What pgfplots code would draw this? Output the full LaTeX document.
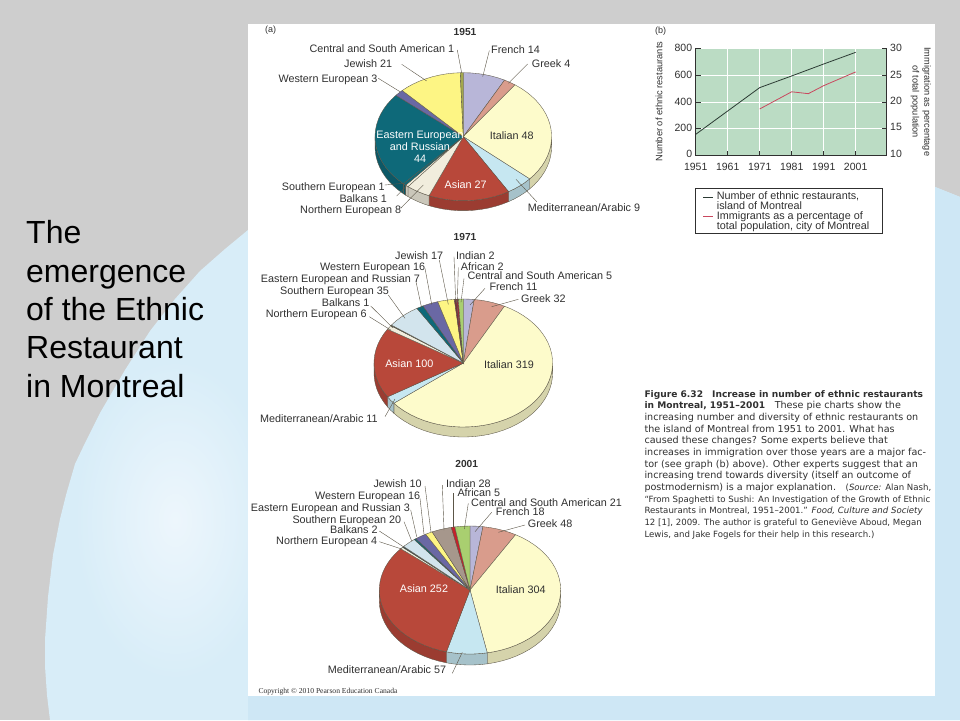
\documentclass[border=0pt]{standalone}
\usepackage{fontspec}
\setmainfont{Liberation Sans}
\newfontfamily\serifcopy{Liberation Serif}
\newfontfamily\capfont{DejaVu Sans}
\usepackage{pgfplots}
\usepackage{pgfplotstable}
\pgfplotsset{compat=1.18}

\definecolor{bgGray}{HTML}{CECECE}
\definecolor{bgBlue}{HTML}{CEE7F5}
\definecolor{bgMid}{HTML}{D8EDF8}
\definecolor{bgLight}{HTML}{EDF6FC}
\definecolor{panelGreen}{HTML}{BBDCC4}
\definecolor{edgeCol}{HTML}{5C5648}
\definecolor{txt}{HTML}{303030}
\definecolor{lineBlack}{HTML}{2B3A33}
\definecolor{lineRed}{HTML}{C9485E}
\definecolor{cFrench}{HTML}{B8B6D8}
\definecolor{cGreek}{HTML}{D99C8C}
\definecolor{cItalian}{HTML}{FDFBCB}
\definecolor{cMed}{HTML}{C6E7F1}
\definecolor{cAsian}{HTML}{B8483A}
\definecolor{cNorth}{HTML}{F1EDDD}
\definecolor{cBalk}{HTML}{1D4A5C}
\definecolor{cSouth}{HTML}{D2E4ED}
\definecolor{cEast}{HTML}{0E6979}
\definecolor{cWest}{HTML}{6A68A4}
\definecolor{cJew}{HTML}{FDF584}
\definecolor{cIndian}{HTML}{A6978C}
\definecolor{cIndianB}{HTML}{7A2E3A}
\definecolor{cAfrican}{HTML}{C4222C}
\definecolor{cAfricanB}{HTML}{9C2C3A}
\definecolor{cCentral}{HTML}{A9CF70}
\definecolor{cCentralA}{HTML}{A3A84C}

\pgfplotstableread{
value colour
14 cFrench
4 cGreek
48 cItalian
9 cMed
27 cAsian
8 cNorth
1 cNorth
1 cEast
44 cEast
3 cWest
21 cJew
1 cCentralA
}\pieA
\pgfplotstableread{
value colour
11 cFrench
32 cGreek
319 cItalian
11 cMed
100 cAsian
6 cNorth
1 cBalk
35 cSouth
7 cEast
16 cWest
17 cJew
2 cIndianB
2 cAfricanB
5 cCentral
}\pieB
\pgfplotstableread{
value colour
18 cFrench
48 cGreek
304 cItalian
57 cMed
252 cAsian
4 cNorth
2 cBalk
20 cSouth
3 cEast
16 cWest
10 cJew
28 cIndian
5 cAfrican
21 cCentral
}\pieC

% append elliptical arc points, angles clockwise from the top
\newcommand{\addarc}[3]{%
  \pgfmathtruncatemacro\nn{max(1,ceil(abs(#2-#1)/5))}%
  \foreach \kk in {0,...,\nn}{%
    \pgfmathsetmacro\ang{#1+(#2-#1)*\kk/\nn}%
    \pgfmathsetmacro\ptx{\cx+\rx*sin(\ang)}%
    \pgfmathsetmacro\pty{\cy-\ry*cos(\ang)+#3}%
    \xdef\pts{\pts (\ptx,\pty)}%
  }}
% table, cx, cy, rx, ry, depth
\newcommand{\drawpie}[6]{%
  \def\cx{#2}\def\cy{#3}\def\rx{#4}\def\ry{#5}%
  \pgfplotstablegetrowsof{#1}\pgfmathtruncatemacro\last{\pgfplotsretval-1}%
  \xdef\tot{0}%
  \foreach \rr in {0,...,\last}{%
    \pgfplotstablegetelem{\rr}{value}\of{#1}%
    \pgfmathsetmacro\tmpv{\tot+\pgfplotsretval}\xdef\tot{\tmpv}}%
  % side walls first
  \xdef\cum{0}%
  \foreach \rr in {0,...,\last}{%
    \pgfplotstablegetelem{\rr}{value}\of{#1}\edef\val{\pgfplotsretval}%
    \pgfplotstablegetelem{\rr}{colour}\of{#1}\edef\col{\pgfplotsretval}%
    \pgfmathsetmacro\nxt{\cum+\val/\tot*360}%
    \pgfmathsetmacro\wa{max(\cum,90)}\pgfmathsetmacro\wb{min(\nxt,270)}%
    \pgfmathtruncatemacro\vis{\wb>\wa?1:0}%
    \ifnum\vis=1
      \xdef\pts{}\addarc{\wa}{\wb}{0}\addarc{\wb}{\wa}{#6}%
      \edef\cmd{\noexpand\addplot[fill=\col!84!black,draw=edgeCol,line width=0.35pt] coordinates {\pts} --cycle;}\cmd
    \fi
    \xdef\cum{\nxt}}%
  % top faces
  \xdef\cum{0}%
  \foreach \rr in {0,...,\last}{%
    \pgfplotstablegetelem{\rr}{value}\of{#1}\edef\val{\pgfplotsretval}%
    \pgfplotstablegetelem{\rr}{colour}\of{#1}\edef\col{\pgfplotsretval}%
    \pgfmathsetmacro\nxt{\cum+\val/\tot*360}%
    \xdef\pts{(\cx,\cy)}\addarc{\cum}{\nxt}{0}%
    \edef\cmd{\noexpand\addplot[fill=\col,draw=edgeCol,line width=0.35pt] coordinates {\pts} --cycle;}\cmd
    \xdef\cum{\nxt}}%
}
\newcommand{\fs}[1]{\fontsize{#1}{#1}\selectfont}
\tikzset{tx/.style={inner sep=0pt,text height=10.2pt,text depth=2.3pt}}
\newcommand{\lbl}[3]{\node[tx,anchor=west,text=txt,font=\fs{10.8}] at (axis cs:#1,#2) {#3};}
\newcommand{\clbl}[3]{\node[tx,text=txt,font=\fs{10.8}] at (axis cs:#1,#2) {#3};}
\newcommand{\wlbl}[3]{\node[tx,text=white,font=\fs{10.8}] at (axis cs:#1,#2) {#3};}
\newcommand{\ld}[4]{\draw[edgeCol,line width=0.4pt] (axis cs:#1,#2) -- (axis cs:#3,#4);}
\newcommand{\capL}[2]{\node[tx,anchor=west,text=txt,font=\capfont\fs{9.6}] at (axis cs:644.3,#1) {#2};}
\newcommand{\capB}[2]{\node[tx,anchor=west,text=txt,font=\capfont\fs{9.1}] at (axis cs:644.3,#1) {#2};}
\newcommand{\capS}[2]{\node[tx,anchor=west,text=txt,font=\capfont\fs{8.6}] at (axis cs:644.3,#1) {#2};}
\newcommand{\ttl}[2]{\node[anchor=base west,inner sep=0pt,text=black,font=\fs{32}] at (axis cs:26,#1) {#2};}

\begin{document}
\begin{tikzpicture}
\begin{axis}[
    name=page, at={(0pt,0pt)}, anchor=south west,
    width=960pt, height=720pt, scale only axis,
    xmin=0, xmax=960, ymin=0, ymax=720, y dir=reverse,
    hide axis, clip=false,
]
% slide background
\addplot[fill=bgGray,draw=none] coordinates {(0,0)(960,0)(960,720)(0,720)} --cycle;
\addplot[fill=bgMid,draw=none] coordinates {
  (248,230)(225,249)(200,271)(175,299)(150,331)(125,370)(100,413)(85,443)(75,464)
  (66,495)(60,519)(53,555)(48,597)(45,640)(45,666)(47,695)(50,720)
  (960,720)(960,197)(935,187)} --cycle;
\addplot[fill=bgBlue,draw=none] coordinates {(248,690)(248,720)(960,720)(960,197)(935,187)(935,690)} --cycle;
\shade[inner color=bgLight,outer color=bgMid] (axis cs:175,520) ellipse[x radius=100,y radius=160];
\addplot[fill=white,draw=none] coordinates {(248,24)(935,24)(935,696)(248,696)} --cycle;

% slide title
\ttl{243}{The}
\ttl{282}{emergence}
\ttl{320}{of the Ethnic}
\ttl{358}{Restaurant}
\ttl{397}{in Montreal}

% pies
\drawpie{\pieA}{463.3}{136.7}{88.3}{64}{10}
\drawpie{\pieB}{463.3}{363}{89.3}{64}{10}
\drawpie{\pieC}{470}{590}{90.7}{64}{11}

\node[tx,anchor=west,text=txt,font=\fs{9}] at (axis cs:265,29) {(a)};
\node[tx,text=txt,font=\bfseries\fs{10.2}] at (axis cs:465,31.7) {1951};
\node[tx,text=txt,font=\bfseries\fs{10.2}] at (axis cs:465,236.7) {1971};
\node[tx,text=txt,font=\bfseries\fs{10.2}] at (axis cs:466.7,463.3) {2001};

% 1951 labels
\lbl{309.3}{49}{Central and South American 1}
\lbl{491}{49.3}{French 14}
\lbl{531.7}{63.3}{Greek 4}
\lbl{344}{63.3}{Jewish 21}
\lbl{278.3}{78.3}{Western European 3}
\wlbl{420}{135}{Eastern European}
\wlbl{420}{146.7}{and Russian}
\wlbl{420}{158.3}{44}
\clbl{511.7}{136}{Italian 48}
\wlbl{465.7}{184.3}{Asian 27}
\lbl{281.7}{186.7}{Southern European 1}
\lbl{339.3}{198.3}{Balkans 1}
\lbl{300}{209.3}{Northern European 8}
\lbl{527.7}{207.3}{Mediterranean/Arabic 9}
\ld{457.3}{50}{461.7}{73}
\ld{489.3}{50.7}{482.7}{76.7}
\ld{527.7}{64}{508.3}{83.3}
\ld{401.7}{64.3}{426.7}{81}
\ld{378.3}{78.3}{400}{91.7}
\ld{384.7}{185}{403.3}{183.3}
\ld{396.7}{196}{406.7}{185.7}
\ld{400.7}{208.3}{423.3}{185}
\ld{536.7}{201.7}{516}{179.3}

% 1971 labels
\lbl{395}{255.7}{Jewish 17}
\lbl{456}{256}{Indian 2}
\lbl{460.7}{266.7}{African 2}
\lbl{467.3}{276}{Central and South American 5}
\lbl{489.3}{286.3}{French 11}
\lbl{521}{298.3}{Greek 32}
\lbl{320}{266.7}{Western European 16}
\lbl{260.7}{278.3}{Eastern European and Russian 7}
\lbl{280}{290.7}{Southern European 35}
\lbl{321.7}{302.3}{Balkans 1}
\lbl{265.7}{313.7}{Northern European 6}
\clbl{509}{364.3}{Italian 319}
\wlbl{409.3}{363.3}{Asian 100}
\lbl{260}{418.3}{Mediterranean/Arabic 11}
\ld{439.3}{260}{448.3}{304.3}
\ld{454}{256.7}{455.7}{301.7}
\ld{458.3}{267.7}{457.3}{302.3}
\ld{464}{278.3}{461}{302.3}
\ld{485}{288.3}{470}{305}
\ld{518.3}{299.3}{491.7}{306.7}
\ld{425}{268.3}{431.7}{304.3}
\ld{416}{281.7}{421.7}{308.3}
\ld{388.3}{295}{405}{318.3}
\ld{370.7}{306}{392.7}{327.7}
\ld{369.3}{316.7}{390.7}{330}
\ld{385}{416.7}{395}{399}

% 2001 labels
\lbl{373.3}{483.3}{Jewish 10}
\lbl{446}{483.3}{Indian 28}
\lbl{457.3}{492.7}{African 5}
\lbl{471}{502.3}{Central and South American 21}
\lbl{495.7}{511.7}{French 18}
\lbl{527.7}{523.7}{Greek 48}
\lbl{315}{495.3}{Western European 16}
\lbl{250.7}{507.3}{Eastern European and Russian 3}
\lbl{292.3}{519.3}{Southern European 20}
\lbl{330}{529.7}{Balkans 2}
\lbl{276}{541}{Northern European 4}
\clbl{520.7}{590}{Italian 304}
\wlbl{424}{588.3}{Asian 252}
\lbl{327.7}{670}{Mediterranean/Arabic 57}
\ld{425}{486}{431}{532.3}
\ld{442.3}{485}{444}{530}
\ld{453.3}{493.3}{453.3}{526.7}
\ld{468.3}{503.3}{464.3}{529}
\ld{491.7}{512.3}{475}{531.7}
\ld{525}{525}{498.3}{532.3}
\ld{420}{498.3}{424}{534.3}
\ld{410.7}{510}{416.7}{536.7}
\ld{404}{521.7}{411.7}{541}
\ld{379.3}{531}{403.3}{546.7}
\ld{379.3}{541.7}{401.7}{549}
\ld{452.3}{673.3}{462.3}{652.3}
\node[tx,anchor=west,text=txt,font=\serifcopy\fs{7.6}] at (axis cs:258.3,690) {Copyright © 2010 Pearson Education Canada};

% panel (b) texts
\node[tx,anchor=west,text=txt,font=\fs{9}] at (axis cs:655,29.3) {(b)};
\node[inner sep=0pt,rotate=90,text=txt,font=\fs{9.3}] at (axis cs:659,101.7) {Number of ethnic restaurants};
\node[inner sep=0pt,rotate=-90,text=txt,font=\fs{9.2}] at (axis cs:926.7,101.7) {Immigration as percentage};
\node[inner sep=0pt,rotate=-90,text=txt,font=\fs{9.2}] at (axis cs:915,101.7) {of total population};

% legend
\draw[txt,line width=0.6pt] (axis cs:695.7,188.3) rectangle (axis cs:882.3,233.3);
\draw[lineBlack,line width=0.8pt] (axis cs:703.3,197.7) -- (axis cs:713.3,197.7);
\draw[lineRed,line width=0.8pt] (axis cs:703.3,216) -- (axis cs:713.3,216);
\lbl{716.7}{195.7}{Number of ethnic restaurants,}
\lbl{716.7}{205.7}{island of Montreal}
\lbl{716.7}{215.7}{Immigrants as a percentage of}
\lbl{716.7}{226}{total population, city of Montreal}

% caption
\capB{393.3}{\textbf{Figure 6.32\quad Increase in number of ethnic restaurants}}
\capL{405}{{\fs{9.1}\textbf{in Montreal, 1951–2001}}\quad These pie charts show the}
\capL{416.6}{increasing number and diversity of ethnic restaurants on}
\capL{428.3}{the island of Montreal from 1951 to 2001. What has}
\capL{440}{caused these changes? Some experts believe that}
\capL{451.6}{increases in immigration over those years are a major fac-}
\capL{463.3}{tor (see graph (b) above). Other experts suggest that an}
\capL{475}{increasing trend towards diversity (itself an outcome of}
\capL{486.6}{postmodernism) is a major explanation.\quad{\fs{8.6}(\textit{Source:} Alan Nash,}}
\capS{498.3}{“From Spaghetti to Sushi: An Investigation of the Growth of Ethnic}
\capS{510}{Restaurants in Montreal, 1951–2001.” \textit{Food, Culture and Society}}
\capS{521.6}{12 [1], 2009. The author is grateful to Geneviève Aboud, Megan}
\capS{533.3}{Lewis, and Jake Fogels for their help in this research.)}
\end{axis}

% panel (b), left scale
\begin{axis}[
    at={(695.7pt,564.3pt)}, anchor=south west,
    width=191pt, height=107.4pt, scale only axis,
    xmin=1951, xmax=2010.7, ymin=0, ymax=800,
    axis x line=bottom, axis y line=left, axis line style={-,draw=txt,line width=0.7pt},
    axis background/.style={fill=panelGreen},
    xtick={1951,1961,1971,1981,1991,2001}, ytick={0,200,400,600,800},
    yticklabels={\raisebox{4pt}{0},\raisebox{2pt}{200},400,600,800},
    tick align=inside, major tick length=5pt, tick style={draw=txt,line width=0.7pt},
    grid=major, grid style={white,line width=0.7pt},
    /pgf/number format/1000 sep={}, /pgf/number format/assume math mode=true,
    tick label style={font=\fs{10.5},text=txt},
    xticklabel style={yshift=-4pt},
]
\addplot[lineBlack,line width=0.8pt] coordinates {(1951,159)(1961,333)(1971,507)(1981,594)(1991,683)(2001,770)};
\end{axis}

% panel (b), right scale
\begin{axis}[
    at={(695.7pt,564.3pt)}, anchor=south west,
    width=191pt, height=107.4pt, scale only axis,
    xmin=1951, xmax=2010.7, ymin=10, ymax=30,
    axis x line=none, axis y line=right, axis line style={-,draw=txt,line width=0.7pt},
    ytick={10,15,20,25,30},
    yticklabels={\raisebox{4pt}{10},\raisebox{3pt}{15},\raisebox{1.5pt}{20},\raisebox{1pt}{25},30},
    tick align=inside, major tick length=5pt, tick style={draw=txt,line width=0.7pt},
    /pgf/number format/assume math mode=true,
    tick label style={font=\fs{10.5},text=txt},
]
\addplot[lineRed,line width=0.8pt] coordinates {(1971,18.7)(1981,21.9)(1986.2,21.55)(1991,23.04)(2001,25.6)};
\end{axis}
\end{tikzpicture}
\end{document}
